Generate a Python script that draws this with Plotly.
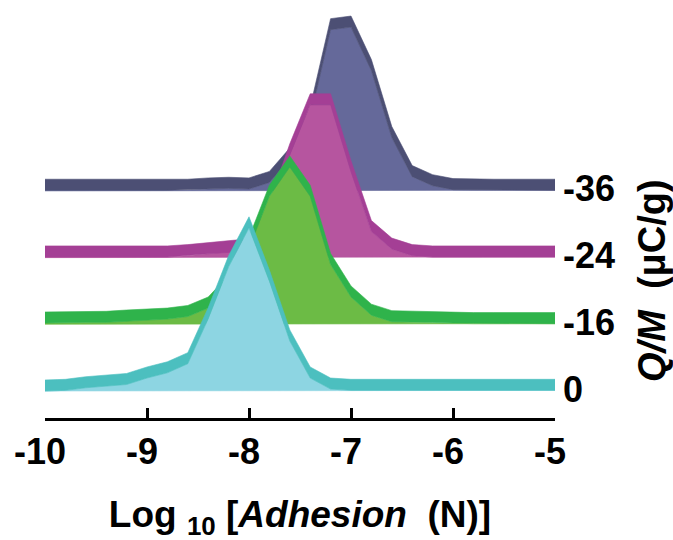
import plotly.graph_objects as go

# log10 of adhesion force (N), bin positions
log_adhesion = [-10.0, -9.8, -9.6, -9.4, -9.2, -9.0, -8.8, -8.6, -8.4, -8.2,
                -8.0, -7.8, -7.6, -7.4, -7.2, -7.0, -6.8, -6.6, -6.4, -6.2,
                -6.0, -5.8, -5.6, -5.4, -5.2, -5.0]

# relative frequency (%) for each charge-to-mass ratio
freq_qm_m36 = [0.1, 0.1, 0.1, 0.1, 0.1, 0.1, 0.1, 0.1, 0.3, 0.4,
               0.3, 1.3, 4.9, 11.2, 24.8, 25.2, 18.5, 8.2, 2.2, 0.8,
               0.2, 0.1, 0.1, 0.1, 0.1, 0.1]
freq_qm_m24 = [0.1, 0.1, 0.1, 0.1, 0.1, 0.1, 0.1, 0.3, 0.6, 0.8,
               1.2, 6.8, 15.8, 23.5, 23.5, 13.2, 4.0, 1.3, 0.3, 0.1,
               0.1, 0.1, 0.1, 0.1, 0.1, 0.1]
freq_qm_m16 = [0.2, 0.2, 0.3, 0.3, 0.5, 0.6, 0.8, 1.2, 2.5, 5.8,
               11.7, 19.7, 24.2, 19.7, 9.2, 4.2, 1.4, 0.4, 0.3, 0.3,
               0.2, 0.1, 0.1, 0.1, 0.1, 0.1]
freq_qm_0 = [0.0, 0.1, 0.5, 0.8, 1.0, 2.0, 2.8, 4.2, 11.1, 19.1,
             25.1, 16.9, 7.7, 2.0, 0.3, 0.1, 0.1, 0.1, 0.1, 0.1,
             0.1, 0.1, 0.1, 0.1, 0.1, 0.1]

qm_labels = ["0", "-16", "-24", "-36"]
x_ticks = [-10, -9, -8, -7, -6, -5]
x_tick_text = ["-10", "-9", "-8", "-7", "-6", "-5"]

# ridge layout (in % units of the hidden y axis)
Y_TOP = 64.3
FIRST_BASE = 4.15
ROW_STEP = 10.26
RIM = 1.7

# bottom-to-top rows: (values, rim colour, face colour)
rows = [
    (freq_qm_0, "#4cbfbf", "#8dd5e2"),
    (freq_qm_m16, "#2fb34b", "#6cbb45"),
    (freq_qm_m24, "#a43f95", "#b6559f"),
    (freq_qm_m36, "#4c4f74", "#65699a"),
]

FONT = "Liberation Sans, Arial, sans-serif"

fig = go.Figure()

# draw the back row first so the lower rows overlap it
for idx in reversed(range(len(rows))):
    vals, rim_col, face_col = rows[idx]
    base = FIRST_BASE + idx * ROW_STEP
    top = [base + v for v in vals]
    rim_top = [t + RIM for t in top]
    xs = log_adhesion + log_adhesion[::-1]
    # filled distribution face
    fig.add_trace(go.Scatter(
        x=xs, y=top + [base] * len(vals), fill="toself", fillcolor=face_col,
        mode="lines", line=dict(width=0.6, color=face_col), hoverinfo="skip",
        showlegend=False))
    # raised rim along the curve
    fig.add_trace(go.Scatter(
        x=xs, y=rim_top + top[::-1], fill="toself", fillcolor=rim_col,
        mode="lines", line=dict(width=0.6, color=rim_col), hoverinfo="skip",
        showlegend=False))

# charge-to-mass labels at the right end of each ridge
for idx, lab in enumerate(qm_labels):
    base = FIRST_BASE + idx * ROW_STEP
    fig.add_annotation(x=-5, y=base + 0.3, xref="x", yref="y", text=f"<b>{lab}</b>",
                       showarrow=False, xanchor="left", yanchor="middle", xshift=6,
                       font=dict(family=FONT, size=36, color="black"))

fig.add_annotation(x=1.19, y=0.33, xref="paper", yref="paper",
                   text="<b><i>Q/M</i>\u00a0\u00a0(\u03bcC/g)</b>", textangle=-90,
                   showarrow=False, xanchor="center", yanchor="middle",
                   font=dict(family=FONT, size=38, color="black"))

fig.update_xaxes(
    range=[-10, -5], showline=True, linecolor="black", linewidth=3,
    ticks="inside", ticklen=10, tickwidth=3, tickcolor="black",
    tickvals=x_ticks, ticktext=x_tick_text, ticklabelshift=-5,
    tickfont=dict(family=FONT, size=36, color="black", weight="bold"),
    showgrid=False, zeroline=False,
    title=dict(text="<b>Log <sub>10</sub> [<i>Adhesion</i>\u00a0\u00a0(N)]</b>",
               font=dict(family=FONT, size=37, color="black"), standoff=36),
)
fig.update_yaxes(range=[0, Y_TOP], visible=False)

fig.update_layout(
    width=673, height=540,
    margin=dict(l=45, r=118, t=0, b=122),
    plot_bgcolor="white", paper_bgcolor="white",
    showlegend=False,
)

fig.write_html("out.html")
